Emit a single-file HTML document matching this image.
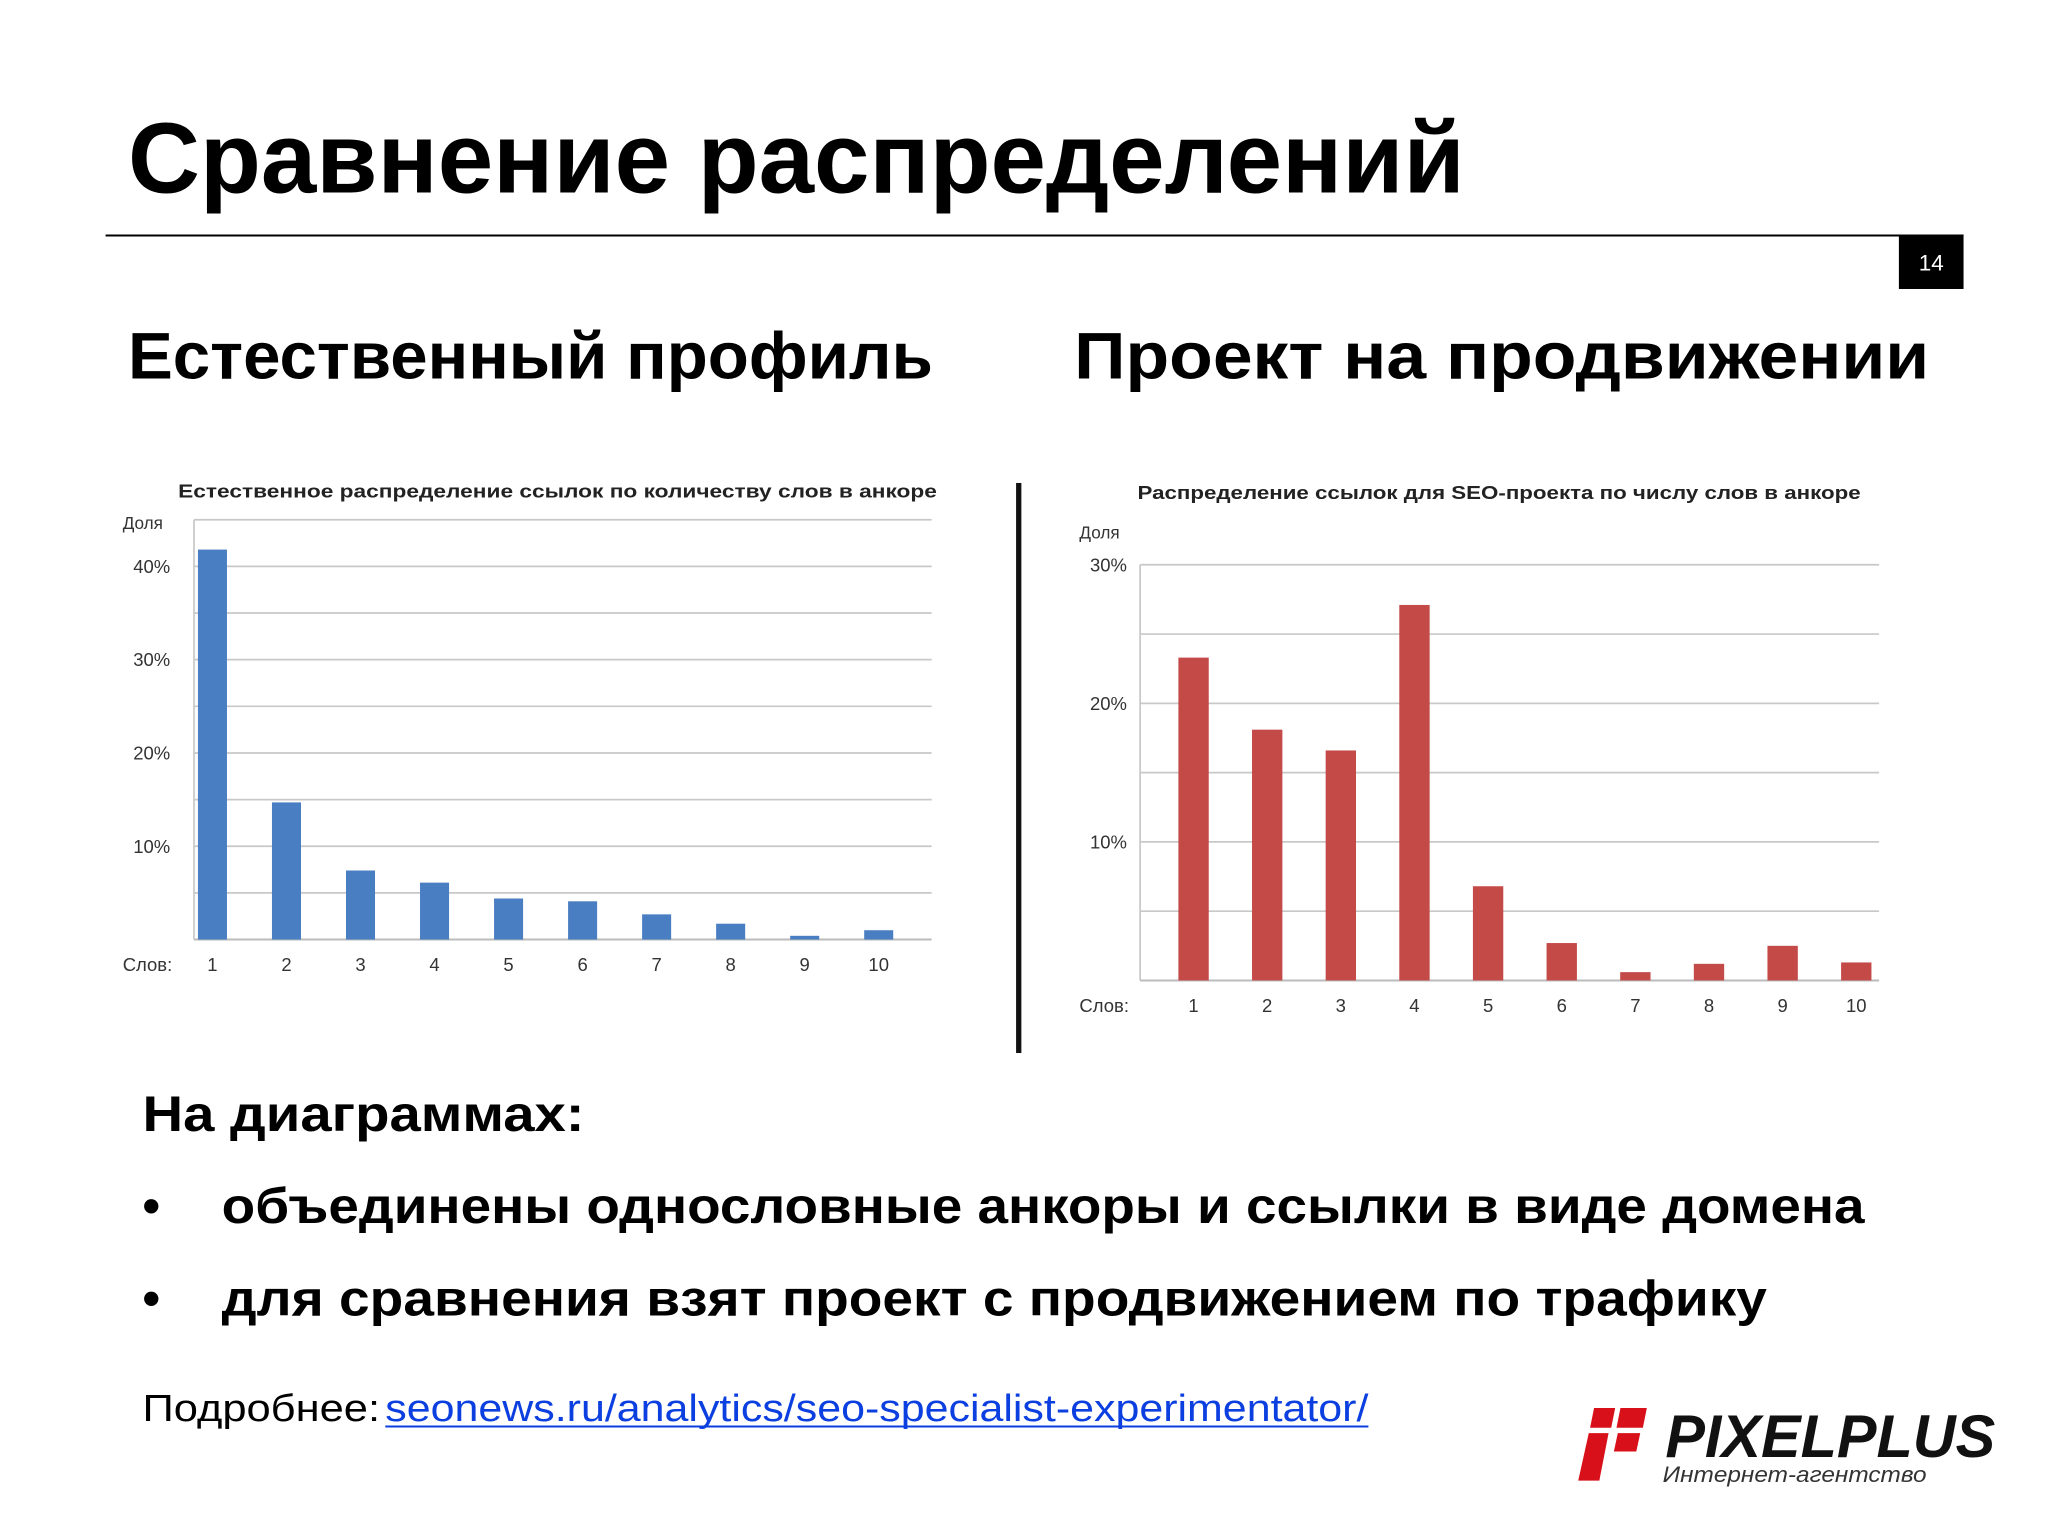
<!DOCTYPE html>
<html><head><meta charset="utf-8"><style>
html,body{margin:0;padding:0;background:#fff;}
svg{display:block;}
text{font-family:"Liberation Sans","DejaVu Sans",sans-serif;}
</style></head><body>
<svg id="page" width="2048" height="1536" viewBox="0 0 1552 1164" xmlns="http://www.w3.org/2000/svg">
<rect width="1552" height="1164" fill="#fff"/>
<text x="97" y="146" font-size="76" font-weight="bold" fill="#000" textLength="1013" lengthAdjust="spacingAndGlyphs">Сравнение распределений</text>
<line x1="80" y1="178.5" x2="1488" y2="178.5" stroke="#000" stroke-width="1.5"/>
<rect x="1439" y="178" width="49" height="41" fill="#000"/>
<text x="1463.5" y="205" font-size="17" fill="#fff" text-anchor="middle">14</text>
<text x="97" y="287" font-size="50" font-weight="bold" fill="#000" textLength="610" lengthAdjust="spacingAndGlyphs">Естественный профиль</text>
<text x="814" y="287" font-size="50" font-weight="bold" fill="#000" textLength="648" lengthAdjust="spacingAndGlyphs">Проект на продвижении</text>
<rect x="770" y="366" width="4" height="432" fill="#111"/>
<g id="chartL"></g>
<g id="chartR"></g>
<text x="108" y="857" font-size="38" font-weight="bold" fill="#000" textLength="335" lengthAdjust="spacingAndGlyphs">На диаграммах:</text>
<text x="108" y="927" font-size="38" font-weight="bold" fill="#000">•</text>
<text x="168" y="927" font-size="38" font-weight="bold" fill="#000" textLength="1245" lengthAdjust="spacingAndGlyphs">объединены однословные анкоры и ссылки в виде домена</text>
<text x="108" y="997" font-size="38" font-weight="bold" fill="#000">•</text>
<text x="168" y="997" font-size="38" font-weight="bold" fill="#000" textLength="1171" lengthAdjust="spacingAndGlyphs">для сравнения взят проект с продвижением по трафику</text>
<text x="108" y="1077" font-size="29" fill="#000" textLength="180" lengthAdjust="spacingAndGlyphs">Подробнее:</text>
<text x="292" y="1077" font-size="29" fill="#0b3fe0" textLength="745" lengthAdjust="spacingAndGlyphs">seonews.ru/analytics/seo-specialist-experimentator/</text>
<line x1="292" y1="1081" x2="1037" y2="1081" stroke="#0b3fe0" stroke-width="1.5"/>
<g>
<polygon points="1208,1067 1224,1067 1221,1082 1205,1082" fill="#d8101a"/>
<polygon points="1228,1067 1248,1067 1245,1082 1225,1082" fill="#d8101a"/>
<polygon points="1204,1086 1219,1086 1212,1122 1196,1122" fill="#d8101a"/>
<polygon points="1226,1086 1243,1086 1240,1100 1223,1100" fill="#d8101a"/>
<text x="1262" y="1104" font-size="46" font-weight="bold" font-style="italic" fill="#111" textLength="250" lengthAdjust="spacingAndGlyphs">PIXELPLUS</text>
<text x="1260" y="1123" font-size="17" font-style="italic" fill="#333" textLength="200" lengthAdjust="spacingAndGlyphs">Интернет-агентство</text>
</g>
</svg>
<script>
// Left chart data
const catsL = ["1","2","3","4","5","6","7","8","9","10"];
const valsL = [41.8,14.7,7.4,6.1,4.4,4.1,2.7,1.7,0.4,1.0];
const ticksL = [10,20,30,40];
const gridL = [5,10,15,20,25,30,35,40,45];
// Right chart data
const catsR = ["1","2","3","4","5","6","7","8","9","10"];
const valsR = [23.3,18.1,16.6,27.1,6.8,2.7,0.6,1.2,2.5,1.3];
const ticksR = [10,20,30];
const gridR = [5,10,15,20,25,30];

const NS = "http://www.w3.org/2000/svg";
function mk(parent, tag, attrs){const e=document.createElementNS(NS,tag);for(const k in attrs)e.setAttribute(k,attrs[k]);parent.appendChild(e);return e;}

function draw(g, cfg, cats, vals, ticks, grid){
  const y = v => cfg.y0 - v*cfg.ppu;
  const xc = i => cfg.c0 + i*cfg.step;
  const t = mk(g,'text',{x:cfg.tx,y:cfg.ty,'font-size':14,'font-weight':'bold',fill:'#222',textLength:cfg.tw,lengthAdjust:'spacingAndGlyphs'});
  
  
  t.textContent = cfg.title;
  const d = mk(g,'text',{x:cfg.lx,y:cfg.dy,'font-size':13,fill:'#333'});
  
  
  d.textContent='Доля';
  grid.forEach(v=>{
    const l = mk(g,'line',{x1:cfg.ax0,x2:cfg.ax1,y1:y(v),y2:y(v),stroke:'#c8c8c8','stroke-width':1.3});
    
    
  });
  const ax = mk(g,'line',{x1:cfg.ax0,x2:cfg.ax0,y1:y(cfg.ymax),y2:cfg.y0,stroke:'#c8c8c8','stroke-width':1.3});
  
  
  const bx = mk(g,'line',{x1:cfg.ax0,x2:cfg.ax1,y1:cfg.y0,y2:cfg.y0,stroke:'#bbb','stroke-width':1.5});
  
  
  ticks.forEach(v=>{
    const tt = mk(g,'text',{x:cfg.lx+36,y:y(v)+5,'font-size':14,fill:'#333','text-anchor':'end'});
    
    
    tt.textContent = v+'%';
  });
  vals.forEach((v,i)=>{
    const r = mk(g,'rect',{x:xc(i)-cfg.bw/2,y:y(v),width:cfg.bw,height:v*cfg.ppu,fill:cfg.color});
    
    
    const lb = mk(g,'text',{x:xc(i),y:cfg.y0+24,'font-size':14,fill:'#333','text-anchor':'middle'});
    
    
    lb.textContent = cats[i];
  });
  const s = mk(g,'text',{x:cfg.lx,y:cfg.y0+24,'font-size':14,fill:'#333'});
  
  
  s.textContent='Слов:';
}
draw(document.getElementById('chartL'),
 {title:'Естественное распределение ссылок по количеству слов в анкоре',tx:135,ty:377,tw:575,lx:93,dy:401,
  y0:712,ppu:7.07,ymax:45,ax0:147,ax1:706,c0:161,step:56.1,bw:22,color:'#4a7ec2'},
 catsL,valsL,ticksL,gridL);
draw(document.getElementById('chartR'),
 {title:'Распределение ссылок для SEO-проекта по числу слов в анкоре',tx:862,ty:378,tw:548,lx:818,dy:408,
  y0:743,ppu:10.5,ymax:30,ax0:864,ax1:1424,c0:904.5,step:55.8,bw:23,color:'#c44a48'},
 catsR,valsR,ticksR,gridR);
</script>
</body></html>
